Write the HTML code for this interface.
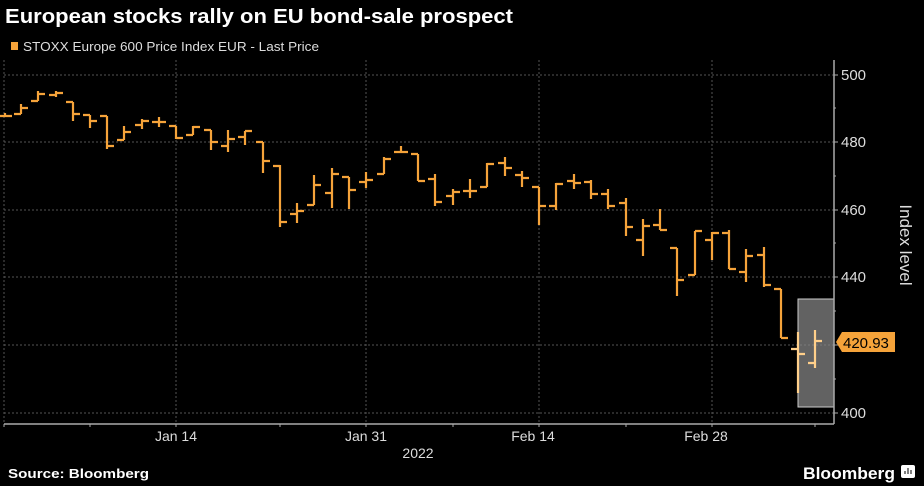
<!DOCTYPE html>
<html><head><meta charset="utf-8"><style>
html,body{margin:0;padding:0;background:#000;}
svg{display:block;font-family:"Liberation Sans",sans-serif;}
</style></head><body>
<svg width="924" height="486" viewBox="0 0 924 486" xmlns="http://www.w3.org/2000/svg">
<rect width="924" height="486" fill="#000"/>
<text x="5" y="23" fill="#fff" font-size="20" font-weight="bold" textLength="508" lengthAdjust="spacingAndGlyphs">European stocks rally on EU bond-sale prospect</text>
<rect x="11" y="42" width="7" height="8" fill="#f5a33a"/>
<text x="23" y="51" fill="#ddd" font-size="13" textLength="296" lengthAdjust="spacingAndGlyphs">STOXX Europe 600 Price Index EUR - Last Price</text>
<g stroke="#555" stroke-dasharray="2,2" stroke-width="1">
<line x1="4" y1="75" x2="834" y2="75"/><line x1="4" y1="142" x2="834" y2="142"/><line x1="4" y1="210" x2="834" y2="210"/><line x1="4" y1="277" x2="834" y2="277"/><line x1="4" y1="345" x2="834" y2="345"/><line x1="4" y1="413" x2="834" y2="413"/>
<line x1="4" y1="60" x2="4" y2="424"/><line x1="176" y1="60" x2="176" y2="424"/><line x1="366" y1="60" x2="366" y2="424"/><line x1="539" y1="60" x2="539" y2="424"/><line x1="712" y1="60" x2="712" y2="424"/>
</g>
<g id="bars" stroke="#f5a33a" stroke-width="2.2" fill="none"></g>
<rect x="798" y="299" width="36" height="108" fill="rgba(140,140,140,0.7)" stroke="#ccc" stroke-width="1"/>
<g id="bars2" stroke="#ffcf8a" stroke-width="2.2" fill="none"></g>
<g stroke="#aaa" stroke-width="1.5">
<line x1="834" y1="60" x2="834" y2="424"/><line x1="4" y1="424" x2="834" y2="424"/>
</g>
<g stroke="#aaa" stroke-width="1">
<line x1="834" y1="75" x2="838" y2="75"/><line x1="834" y1="142" x2="838" y2="142"/><line x1="834" y1="210" x2="838" y2="210"/><line x1="834" y1="277" x2="838" y2="277"/><line x1="834" y1="345" x2="838" y2="345"/><line x1="834" y1="413" x2="838" y2="413"/>
<line x1="834" y1="108" x2="836" y2="108"/><line x1="834" y1="176" x2="836" y2="176"/><line x1="834" y1="243" x2="836" y2="243"/><line x1="834" y1="311" x2="836" y2="311"/><line x1="834" y1="379" x2="836" y2="379"/>
<line x1="4" y1="424" x2="4" y2="427"/><line x1="90" y1="424" x2="90" y2="427"/><line x1="176" y1="424" x2="176" y2="427"/><line x1="280" y1="424" x2="280" y2="427"/><line x1="366" y1="424" x2="366" y2="427"/><line x1="453" y1="424" x2="453" y2="427"/><line x1="539" y1="424" x2="539" y2="427"/><line x1="626" y1="424" x2="626" y2="427"/><line x1="712" y1="424" x2="712" y2="427"/><line x1="815" y1="424" x2="815" y2="427"/>
</g>
<g fill="#ddd" font-size="15">
<text x="841" y="80">500</text><text x="841" y="147">480</text><text x="841" y="215">460</text><text x="841" y="282">440</text><text x="841" y="418">400</text>
</g>
<polygon points="836,342 842,332 895,332 895,352 842,352" fill="#f5a33a"/>
<text x="843" y="348" fill="#000" font-size="15">420.93</text>
<text transform="translate(900,245) rotate(90)" fill="#ddd" font-size="17" text-anchor="middle">Index level</text>
<g fill="#ddd" font-size="14" text-anchor="middle">
<text x="176" y="441">Jan 14</text><text x="366" y="441">Jan 31</text><text x="533" y="441">Feb 14</text><text x="706" y="441">Feb 28</text><text x="418" y="458">2022</text>
</g>
<text x="8" y="478" fill="#fff" font-size="13" font-weight="bold" textLength="141" lengthAdjust="spacingAndGlyphs">Source: Bloomberg</text>
<text x="803" y="479" fill="#fff" font-size="17" font-weight="bold" textLength="92" lengthAdjust="spacingAndGlyphs">Bloomberg</text>
<rect x="901" y="465" width="14" height="13" rx="2" fill="#fff"/>
<g stroke="#000" stroke-width="1"><line x1="905" y1="474" x2="905" y2="471"/><line x1="908" y1="474" x2="908" y2="468"/><line x1="911" y1="474" x2="911" y2="470"/></g>
<script>
var d=[[5,113,116,116,116],[21,104,114,114,108],[38,91,101,101,94],[56,91,97,95,93],[73,102,121,102,114],[90,115,128,115,121],[107,116,149,116,146],[124,126,140,140,132],[142,119,129,125,121],[159,117,127,122,122],[176,126,139,126,138],[193,126,135,135,127],[211,130,150,130,142],[228,130,152,146,139],[245,131,145,137,131],[263,142,173,142,161],[280,165,227,166,222],[297,203,223,214,211],[314,175,205,205,185],[332,168,208,193,174],[349,177,209,177,190],[366,172,188,182,180],[384,157,174,174,159],[401,146,152,152,152],[418,154,181,154,181],[435,174,206,179,202],[453,189,205,196,192],[470,179,198,191,191],[487,163,187,187,164],[505,157,176,163,168],[522,171,187,175,178],[539,187,225,187,206],[556,183,210,206,184],[574,174,189,181,183],[591,180,199,182,194],[608,189,209,194,206],[626,198,236,203,227],[643,219,256,240,226],[660,209,230,225,230],[677,248,296,248,280],[695,231,275,275,231],[712,232,260,240,233],[729,230,269,233,269],[746,249,282,272,256],[764,247,287,255,285],[781,289,338,289,338],[798,332,393,349,354],[815,330,368,363,341]];
var ns="http://www.w3.org/2000/svg";
d.forEach(function(b,i){var g=document.getElementById(i>=46?"bars2":"bars");var p=document.createElementNS(ns,"path");var x=b[0];
p.setAttribute("d","M"+x+" "+b[1]+"V"+b[2]+"M"+(x-7)+" "+b[3]+"H"+x+"M"+x+" "+b[4]+"H"+(x+7));g.appendChild(p);});
</script>
</svg>
</body></html>
